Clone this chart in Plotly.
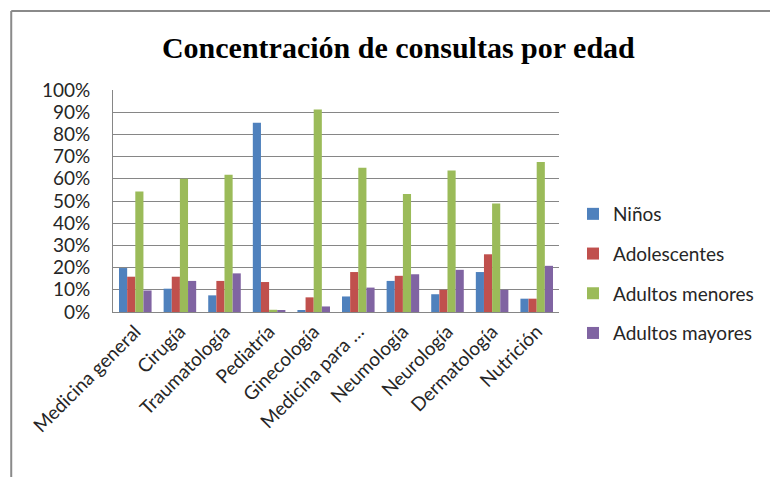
import plotly.graph_objects as go

# Especialidades (eje X) y proporción de consultas por grupo de edad
especialidades = [
    "Medicina general", "Cirugía", "Traumatología", "Pediatría", "Ginecología",
    "Medicina para …", "Neumología", "Neurología", "Dermatología", "Nutrición",
]
ninos = [0.198, 0.105, 0.075, 0.853, 0.005, 0.070, 0.140, 0.080, 0.180, 0.060]
adolescentes = [0.159, 0.159, 0.140, 0.135, 0.066, 0.180, 0.163, 0.100, 0.260, 0.060]
adultos_menores = [0.543, 0.600, 0.618, 0.010, 0.912, 0.650, 0.532, 0.637, 0.489, 0.676]
adultos_mayores = [0.097, 0.140, 0.174, 0.005, 0.025, 0.110, 0.170, 0.190, 0.100, 0.208]

series = [
    ("Niños", ninos, "#4F81BD"),
    ("Adolescentes", adolescentes, "#C0504D"),
    ("Adultos menores", adultos_menores, "#9BBB59"),
    ("Adultos mayores", adultos_mayores, "#8064A2"),
]

W, H = 770, 477
L, R, T, B = 113, 210, 90, 165
pw, ph = W - L - R, H - T - B

fig = go.Figure()
for i, (nombre, valores, color) in enumerate(series):
    fig.add_trace(go.Bar(
        name=nombre, x=especialidades, y=valores,
        marker=dict(color=color, line=dict(width=0)),
        legendgroup=f"g{i}",
    ))

def px_x(p):
    return (p - L) / pw

def px_y(p):
    return (H - B - p) / ph

txt = "#262626"
fs = 19
fig.update_layout(
    width=W, height=H,
    margin=dict(l=L, r=R, t=T, b=B),
    paper_bgcolor="white", plot_bgcolor="white",
    barmode="group", bargap=0.27, bargroupgap=0,
    font=dict(family="Lato, 'Open Sans', sans-serif", size=fs, color=txt),
    title=dict(
        text="<b>Concentración de consultas por edad</b>",
        font=dict(family="'Liberation Serif', 'Times New Roman', serif", size=30, color="black"),
        x=px_x(399), xref="paper", xanchor="center",
        y=1 - 47 / H, yref="container", yanchor="middle",
    ),
    legend=dict(
        x=px_x(573), xanchor="left", y=px_y(195), yanchor="top",
        font=dict(size=fs, color=txt), tracegroupgap=12,
        bgcolor="rgba(0,0,0,0)", itemwidth=30,
    ),
    xaxis=dict(
        tickangle=-45, showgrid=False, showline=True, linecolor="#868686", linewidth=1,
        ticks="", tickfont=dict(size=fs, color=txt),
    ),
    yaxis=dict(
        range=[0, 1], dtick=0.1, tickformat=".0%",
        showgrid=True, gridcolor="#868686", gridwidth=1,
        showline=True, linecolor="#868686", linewidth=1,
        ticks="", ticklabelstandoff=18, tickfont=dict(size=fs, color=txt),
        zeroline=False,
    ),
    shapes=[
        # marco del área del gráfico (abierto a la derecha y abajo)
        dict(type="line", xref="paper", yref="paper",
             x0=px_x(11), x1=px_x(W + 20), y0=px_y(11), y1=px_y(11),
             line=dict(color="#8a8a8a", width=2)),
        dict(type="line", xref="paper", yref="paper",
             x0=px_x(11), x1=px_x(11), y0=px_y(11), y1=px_y(H + 20),
             line=dict(color="#8a8a8a", width=2)),
    ],
)

fig.write_html("out.html")
